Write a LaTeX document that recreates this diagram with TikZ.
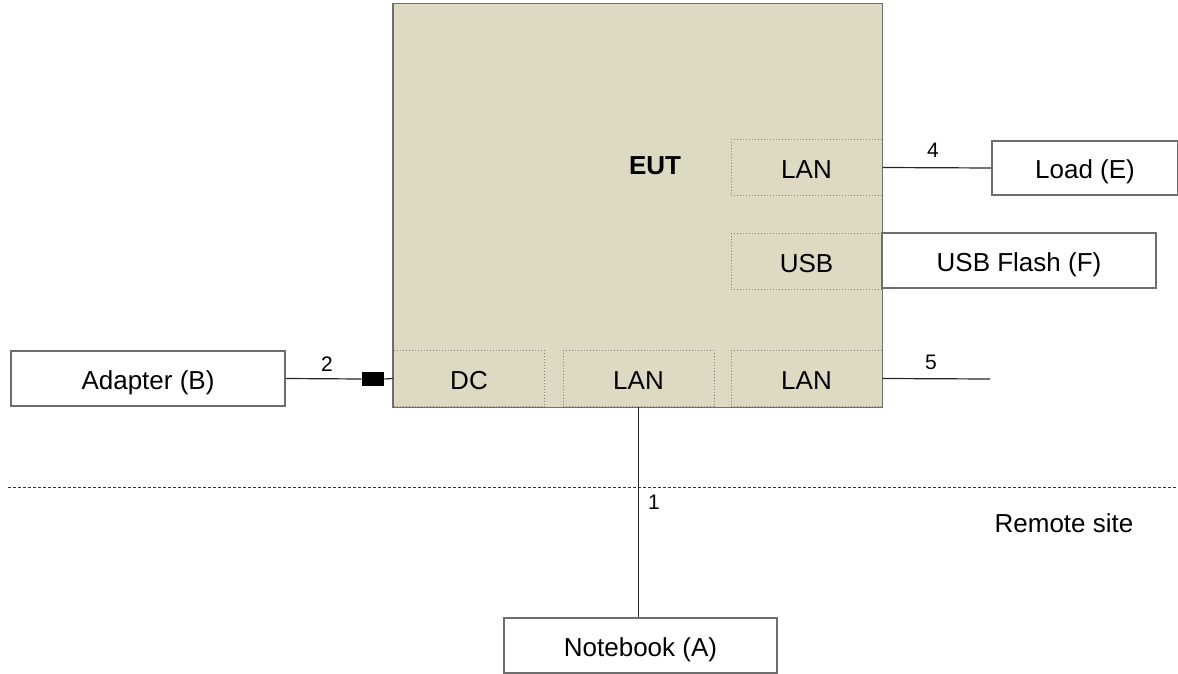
\documentclass[tikz,border=0pt]{standalone}
\usepackage{fontspec}
\setmainfont{Liberation Sans}
\usepackage{xcolor}
\definecolor{eutfill}{HTML}{DDD9C3}
\definecolor{framegray}{HTML}{6E6E6E}
\usetikzlibrary{positioning}

\tikzset{
  unit/.style={draw=framegray, line width=0.9pt, fill=white, inner sep=0pt,
    text height=10.8pt, text depth=0pt, font=\fontsize{13}{15}\selectfont},
  port/.style={draw=gray, densely dotted, line width=0.5pt, fill=eutfill, inner sep=0pt,
    text height=10.8pt, text depth=0pt,
    minimum width=75.5pt, minimum height=28pt, font=\fontsize{13}{15}\selectfont},
  cable/.style={line width=0.6pt, black!85},
  num/.style={font=\fontsize{10.5}{12}\selectfont}
}

\begin{document}
\begin{tikzpicture}[x=0.5pt, y=-0.5pt]
  \useasboundingbox (0,0) rectangle (1178,674);

  % --- EUT with its ports ---
  \node[fill=eutfill, minimum width=244.5pt, minimum height=201.5pt, inner sep=0pt]
    (eut) at (637.5,205.5) {};
  \node[font=\fontsize{13}{15}\selectfont\bfseries] (eutlabel) at (655,166) {EUT};
  \node[port] (lantop) at (806.5,167.5) {LAN};
  \node[port] (usb) at (806.5,261.5) {USB};
  \node[port] (dc) at (469,378.5) {DC};
  \node[port] (lanmid) at (638.5,378.5) {LAN};
  \node[port] (lanright) at (806.5,378.5) {LAN};
  \draw[framegray, line width=0.9pt] (eut.south west) rectangle (eut.north east);

  % --- peripherals ---
  \node[unit, minimum width=93pt, minimum height=27pt] (load) at (1085,168) {Load (E)};
  \node[unit, minimum width=137pt, minimum height=27.5pt] (flash) at (1019,260.5) {USB Flash (F)};
  \node[unit, minimum width=137pt, minimum height=27.5pt] (adapter) at (148,378.5) {Adapter (B)};
  \node[unit, minimum width=136.5pt, minimum height=27.5pt] (notebook) at (640.5,645.5) {Notebook (A)};
  \node[fill=black, minimum width=11pt, minimum height=7pt, inner sep=0pt] (plug) at (373,379) {};
  \coordinate (open5) at (990,379);

  % --- cables ---
  \draw[cable] (adapter.east) -- (plug.west);
  \draw[cable] (plug.east) -- (dc.west);
  \draw[cable] (lantop.east) -- (load.west);
  \draw[cable] (lanright.east) -- (open5);
  \draw[cable] (lanmid.south) -- (lanmid.south |- notebook.north);
  \node[num] (n2) at (327,364) {2};
  \node[num] (n4) at (933,150) {4};
  \node[num] (n5) at (931,362) {5};
  \node[num] (n1) at (654,502) {1};

  % --- remote site border ---
  \draw[black!80, line width=0.5pt, dash pattern=on 1.5pt off 1pt] (8,487) -- (1178,487);
  \node[font=\fontsize{13}{15}\selectfont] (remote) at (1064,523) {Remote site};
\end{tikzpicture}
\end{document}
